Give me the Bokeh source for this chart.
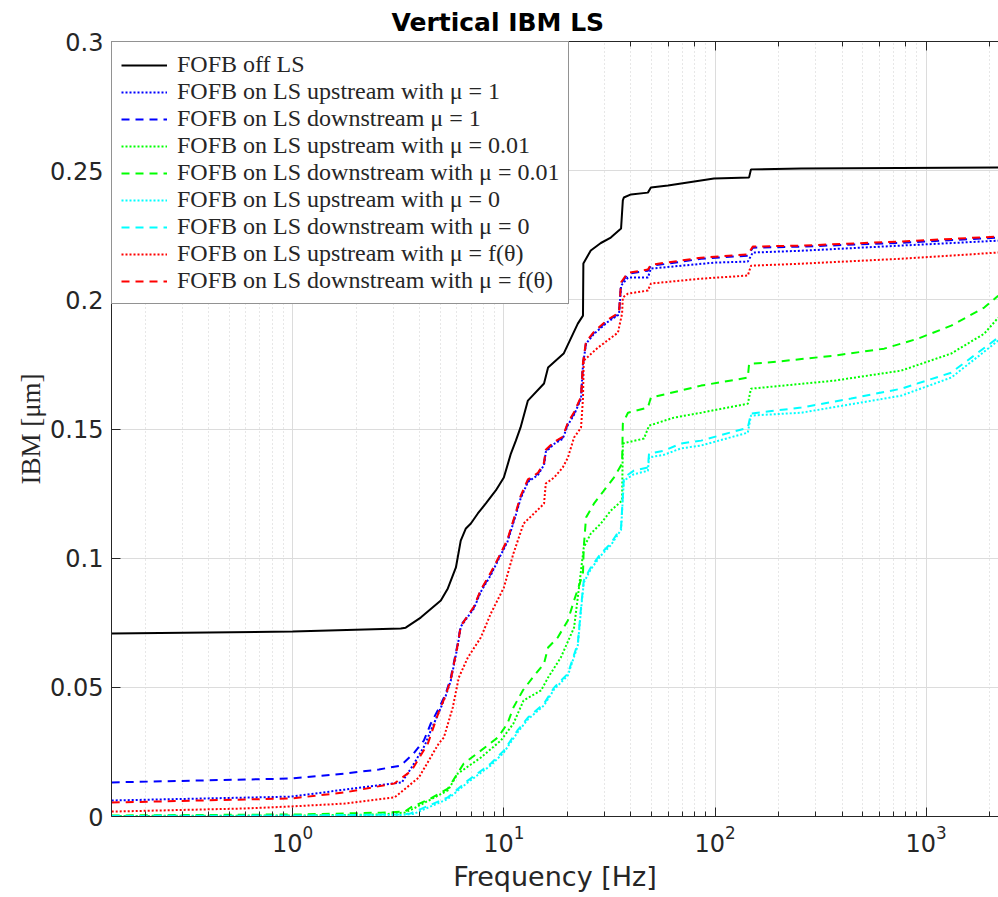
from bokeh.plotting import figure
from bokeh.models import (Legend, LegendItem, LogAxis, LogTicker, CustomJSTickFormatter,
                          FixedTicker, Range1d, Title)
from bokeh.embed import file_html
from bokeh.resources import INLINE

# ---------------- data (frequency in Hz, IBM in um) ----------------
f_black = [0.139, 1.0, 3.25, 3.43, 4.04, 5.03, 5.43, 5.93, 6.25, 6.61, 6.98, 7.53, 8.22, 9.16, 10.0,
           10.8, 11.4, 12.0, 13.0, 15.5, 16.2, 19.2, 22.4, 23.7, 23.8, 25.8, 28.8, 32.1, 35.9, 36.6,
           37.0, 40.0, 48.1, 49.7, 59.9, 98.9, 145, 148, 256, 2200]
y_black = [0.0708, 0.0716, 0.0728, 0.0731, 0.0770, 0.0836, 0.0883, 0.0964, 0.1068, 0.1115, 0.1134,
           0.1173, 0.1212, 0.1262, 0.1312, 0.1405, 0.1455, 0.1506, 0.1610, 0.1676, 0.1738, 0.1792,
           0.1908, 0.1939, 0.2141, 0.2191, 0.2220, 0.2241, 0.2276, 0.2385, 0.2396, 0.2408, 0.2415,
           0.2435, 0.2443, 0.2470, 0.2474, 0.2505, 0.2508, 0.2512]

f_blue_up = [0.139, 0.989, 1.76, 3.29, 3.40, 3.66, 4.22, 4.51, 4.92, 5.31, 5.61, 6.05, 6.25, 7.21,
             7.78, 8.68, 9.47, 10.4, 11.4, 12.0, 13.0, 14.5, 15.5, 15.8, 17.3, 19.0, 20.1, 21.5,
             23.2, 23.7, 24.5, 26.7, 31.1, 35.1, 35.9, 38.7, 48.1, 49.7, 98.9, 143, 151, 256, 762, 2193]
y_blue_up = [0.0062, 0.0077, 0.0104, 0.0132, 0.0151, 0.0190, 0.0275, 0.0333, 0.0402, 0.0468, 0.0526,
             0.0662, 0.0735, 0.0805, 0.0870, 0.0935, 0.0998, 0.1063, 0.1168, 0.1230, 0.1295, 0.1322,
             0.1361, 0.1411, 0.1442, 0.1462, 0.1516, 0.1555, 0.1617, 0.1748, 0.1830, 0.1868, 0.1915,
             0.1943, 0.2055, 0.2086, 0.2086, 0.2121, 0.2144, 0.2148, 0.2183, 0.2190, 0.2210, 0.2229]

f_blue_down = [0.139, 0.989, 1.76, 2.56, 3.25, 3.74, 4.18, 4.51, 4.92, 5.31, 5.61, 6.05, 6.25, 7.21,
               7.78, 8.68, 9.47, 10.4, 11.4, 12.0, 13.0, 14.5, 15.5, 15.8, 17.3, 19.0, 20.1, 21.5,
               23.2, 23.7, 24.5, 26.7, 31.1, 35.1, 35.9, 38.7, 48.1, 49.7, 59.9, 85.9, 143, 151, 256,
               762, 2193]
y_blue_down = [0.0132, 0.0147, 0.0166, 0.0182, 0.0197, 0.0244, 0.0294, 0.0360, 0.0418, 0.0476,
               0.0538, 0.0670, 0.0739, 0.0809, 0.0875, 0.0940, 0.1002, 0.1068, 0.1173, 0.1235,
               0.1300, 0.1327, 0.1366, 0.1416, 0.1447, 0.1467, 0.1521, 0.1560, 0.1622, 0.1753,
               0.1834, 0.1873, 0.1920, 0.1947, 0.2063, 0.2101, 0.2113, 0.2132, 0.2140, 0.2159,
               0.2171, 0.2202, 0.2206, 0.2221, 0.2241]

f_green_up = [0.139, 1.09, 2.61, 3.40, 3.74, 5.43, 6.05, 7.78, 9.68, 11.1, 12.4, 15.0, 16.2, 18.6,
              21.5, 22.4, 23.9, 25.8, 28.8, 32.1, 36.3, 36.6, 46.1, 48.7, 63.9, 85.9, 143, 148, 366,
              762, 1313, 1883, 2193]
y_green_up = [0.0002, 0.0004, 0.0008, 0.0015, 0.0031, 0.0101, 0.0166, 0.0228, 0.0294, 0.0360,
              0.0449, 0.0488, 0.0538, 0.0615, 0.0731, 0.0848, 0.1041, 0.1095, 0.1134, 0.1184,
              0.1223, 0.1444, 0.1463, 0.1513, 0.1544, 0.1563, 0.1598, 0.1656, 0.1687, 0.1726,
              0.1792, 0.1869, 0.1931]

f_green_down = [0.139, 1.09, 2.61, 3.40, 3.62, 4.51, 5.43, 6.46, 7.78, 9.37, 10.4, 11.1, 12.3, 13.7,
                15.5, 16.2, 18.0, 20.1, 21.5, 23.7, 23.9, 24.5, 26.7, 29.8, 33.2, 36.3, 36.6, 38.7,
                48.1, 49.7, 59.9, 85.9, 143, 145, 178, 366, 632, 916, 1313, 1883, 2193]
y_green_down = [0.0004, 0.0008, 0.0015, 0.0019, 0.0035, 0.0070, 0.0108, 0.0205, 0.0255, 0.0306,
                0.0360, 0.0422, 0.0488, 0.0538, 0.0592, 0.0654, 0.0693, 0.0759, 0.0836, 0.0940,
                0.1041, 0.1157, 0.1211, 0.1262, 0.1312, 0.1366, 0.1521, 0.1563, 0.1583, 0.1622,
                0.1637, 0.1668, 0.1699, 0.1753, 0.1757, 0.1784, 0.1811, 0.1850, 0.1900, 0.1970,
                0.2016]

f_cyan_up = [0.139, 1.09, 3.25, 3.74, 5.43, 6.75, 8.68, 10.0, 11.6, 13.0, 15.5, 17.3, 20.1, 22.4,
             23.2, 23.9, 25.8, 28.8, 32.1, 35.9, 37.0, 41.3, 48.1, 48.7, 57.3, 69.0, 85.9, 143, 148,
             256, 762, 1313, 2193]
y_cyan_up = [0.0000, 0.0002, 0.0006, 0.0010, 0.0068, 0.0132, 0.0198, 0.0248, 0.0325, 0.0376, 0.0430,
             0.0492, 0.0546, 0.0662, 0.0800, 0.0905, 0.0957, 0.1010, 0.1050, 0.1110, 0.1300, 0.1325,
             0.1338, 0.1390, 0.1400, 0.1425, 0.1436, 0.1486, 0.1552, 0.1563, 0.1629, 0.1699, 0.1842]

f_cyan_down = [0.139, 1.09, 3.25, 3.62, 5.43, 6.75, 8.68, 10.0, 11.6, 13.0, 15.5, 17.3, 20.1, 22.4,
               23.2, 23.9, 25.8, 28.8, 32.1, 35.9, 37.0, 41.3, 48.1, 48.7, 57.3, 69.0, 85.9, 143,
               148, 256, 441, 762, 1313, 2193]
y_cyan_down = [0.0002, 0.0004, 0.0008, 0.0012, 0.0074, 0.0139, 0.0205, 0.0255, 0.0333, 0.0383,
               0.0437, 0.0499, 0.0553, 0.0670, 0.0809, 0.0913, 0.0964, 0.1018, 0.1057, 0.1118,
               0.1312, 0.1339, 0.1351, 0.1405, 0.1416, 0.1444, 0.1455, 0.1505, 0.1560, 0.1583,
               0.1618, 0.1656, 0.1718, 0.1854]

f_red_up = [0.139, 0.592, 0.989, 1.76, 3.04, 3.96, 4.92, 5.20, 5.73, 6.12, 6.75, 7.78, 8.68, 10.0,
            11.1, 12.4, 13.9, 15.5, 15.8, 17.3, 19.0, 20.1, 21.5, 23.2, 23.7, 23.9, 27.9, 34.7, 36.3,
            36.6, 38.7, 48.1, 49.7, 85.9, 143, 148, 256, 762, 2193]
y_red_up = [0.0019, 0.0031, 0.0039, 0.0050, 0.0074, 0.0151, 0.0283, 0.0306, 0.0422, 0.0538, 0.0615,
            0.0693, 0.0786, 0.0886, 0.1018, 0.1134, 0.1173, 0.1211, 0.1289, 0.1312, 0.1351, 0.1389,
            0.1467, 0.1505, 0.1618, 0.1765, 0.1815, 0.1873, 0.1947, 0.2009, 0.2024, 0.2036, 0.2063,
            0.2082, 0.2094, 0.2132, 0.2140, 0.2159, 0.2183]

f_red_down = [0.139, 0.989, 1.76, 3.03, 3.66, 4.37, 4.92, 5.31, 5.61, 6.05, 6.25, 7.21, 7.78, 8.68,
              9.47, 10.4, 11.4, 12.0, 13.0, 14.5, 15.5, 15.8, 17.3, 19.0, 20.1, 21.5, 23.2, 23.7,
              24.5, 26.7, 31.1, 35.1, 35.9, 38.7, 48.1, 49.7, 59.9, 85.9, 143, 151, 256, 762, 2193]
y_red_down = [0.0054, 0.0070, 0.0093, 0.0128, 0.0178, 0.0283, 0.0405, 0.0470, 0.0532, 0.0665,
              0.0737, 0.0812, 0.0878, 0.0945, 0.1005, 0.1072, 0.1178, 0.1240, 0.1305, 0.1330,
              0.1370, 0.1420, 0.1450, 0.1470, 0.1525, 0.1565, 0.1625, 0.1758, 0.1838, 0.1876,
              0.1924, 0.1950, 0.2068, 0.2105, 0.2117, 0.2136, 0.2145, 0.2163, 0.2176, 0.2206,
              0.2210, 0.2226, 0.2245]

labels = [
    "FOFB off LS",
    "FOFB on LS upstream with \u03bc = 1",
    "FOFB on LS downstream \u03bc = 1",
    "FOFB on LS upstream with \u03bc = 0.01",
    "FOFB on LS downstream with \u03bc = 0.01",
    "FOFB on LS upstream with \u03bc = 0",
    "FOFB on LS downstream with \u03bc = 0",
    "FOFB on LS upstream with \u03bc = f(\u03b8)",
    "FOFB on LS downstream with \u03bc = f(\u03b8)",
]

y_ticks = [0, 0.05, 0.1, 0.15, 0.2, 0.25, 0.3]

# ---------------- figure ----------------
AX = "#262626"
p = figure(width=998, height=897, x_axis_type="log",
           x_range=Range1d(0.1387, 2200), y_range=Range1d(0, 0.3),
           output_backend="svg", toolbar_location=None,
           min_border_left=111, min_border_right=0, min_border_top=41, min_border_bottom=81)
p.outline_line_color = None
p.background_fill_color = "white"

p.title.text = "Vertical IBM LS"
p.title.text_font = "DejaVu Sans"
p.title.text_font_style = "bold"
p.title.text_font_size = "25px"
p.title.text_color = "black"
p.title.align = "left"
p.title.offset = 280

xa = p.xaxis[0]
ya = p.yaxis[0]
for ax in (xa, ya):
    ax.axis_line_color = AX
    ax.major_tick_line_color = AX
    ax.minor_tick_line_color = AX
    ax.major_tick_in = 9
    ax.major_tick_out = 0
    ax.minor_tick_in = 5
    ax.minor_tick_out = 0
    ax.major_label_text_font = "DejaVu Sans"
    ax.major_label_text_font_size = "24px"
    ax.major_label_text_color = AX

ya.ticker = FixedTicker(ticks=y_ticks)
ya.minor_tick_line_color = None
ya.formatter = CustomJSTickFormatter(code="return tick === 0 ? '0' : String(Number(tick.toFixed(2)));")
ya.major_label_standoff = 8

xa.axis_label = "Frequency [Hz]"
xa.axis_label_text_font = "DejaVu Sans"
xa.axis_label_text_font_size = "27px"
xa.axis_label_text_font_style = "normal"
xa.axis_label_text_color = AX
xa.axis_label_standoff = 6
xa.major_label_standoff = 8

top = LogAxis(ticker=LogTicker(), formatter=CustomJSTickFormatter(code="return '';"),
              axis_line_color=AX, major_tick_line_color=AX, minor_tick_line_color=AX,
              major_tick_in=9, major_tick_out=0, minor_tick_in=5, minor_tick_out=0,
              major_label_standoff=0, major_label_text_font_size="1px")
p.add_layout(top, "above")

p.xgrid.grid_line_color = "#dcdcdc"
p.xgrid.grid_line_width = 1
p.xgrid.minor_grid_line_color = "#cfcfcf"
p.xgrid.minor_grid_line_dash = "1 3"
p.ygrid.grid_line_color = "#dcdcdc"

ylab = Title(text="IBM [\u03bcm]", align="center",
             text_font="Liberation Serif", text_font_size="27px", text_font_style="normal",
             text_color=AX, standoff=4)
p.add_layout(ylab, "left")

DOT = "2 2"
DASH = "8 6"
W = 2
series = [
    (f_black, y_black, "black", "solid"),
    (f_blue_up, y_blue_up, "#0000ff", DOT),
    (f_blue_down, y_blue_down, "#0000ff", DASH),
    (f_green_up, y_green_up, "#00ff00", DOT),
    (f_green_down, y_green_down, "#00ff00", DASH),
    (f_cyan_up, y_cyan_up, "#00ffff", DOT),
    (f_cyan_down, y_cyan_down, "#00ffff", DASH),
    (f_red_up, y_red_up, "#ff0000", DOT),
    (f_red_down, y_red_down, "#ff0000", DASH),
]
items = []
for (fx, fy, col, dash), lab in zip(series, labels):
    r = p.line(fx, fy, line_color=col, line_width=W, line_dash=dash)
    items.append(LegendItem(label=lab, renderers=[r]))

legend = Legend(items=items, location="top_left", margin=0, padding=9, spacing=0,
                glyph_width=46, glyph_height=24, label_height=26, label_standoff=10,
                label_text_font="Liberation Serif", label_text_font_size="24px",
                label_text_color=AX, border_line_color=AX, border_line_width=1,
                background_fill_color="white", background_fill_alpha=1.0)
p.add_layout(legend)

open("out.html", "w").write(file_html(p, INLINE))
